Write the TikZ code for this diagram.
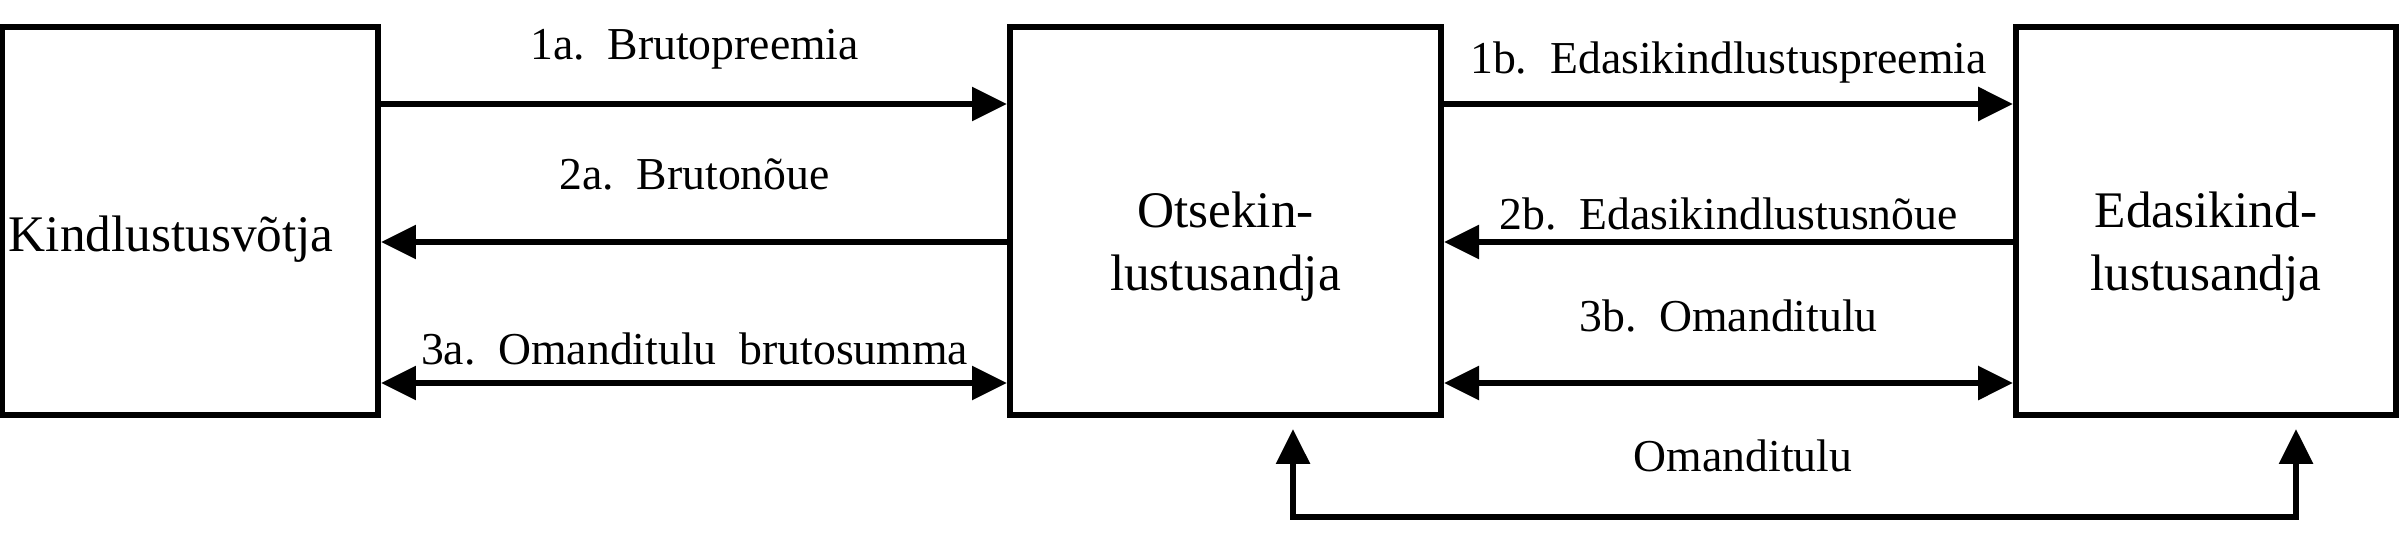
\documentclass[tikz,border=0pt]{standalone}
\usepackage{fontspec}
\setmainfont{Liberation Serif}
\usetikzlibrary{arrows.meta,positioning}

\begin{document}
\begin{tikzpicture}[
  lbl/.style={font=\fontsize{13}{15}\selectfont,inner sep=1pt},
  kast/.style={draw,line width=1.7pt,minimum height=3.88cm},
  ktxt/.style={align=center,inner sep=0pt,font=\fontsize{14.6}{18}\selectfont},
  arr/.style={-{Triangle[length=3.5mm,width=3.3mm]},line width=1.7pt},
  arr2/.style={{Triangle[length=3.5mm,width=3.3mm]}-{Triangle[length=3.5mm,width=3.3mm]},line width=1.7pt}
]
  \useasboundingbox (0,0) rectangle (23.99,5.51);
  % kastid
  \node[kast,minimum width=3.76cm] (kv) at (1.90,3.30) {};
  \node[ktxt,anchor=west] (kvtxt) at (0.08,3.12) {Kindlustusvõtja};
  \node[kast,minimum width=4.31cm] (ok) at (12.255,3.30) {};
  \node[ktxt] (oktxt) at (12.255,3.04) {Otsekin-\\lustusandja};
  \node[kast,minimum width=3.80cm] (ek) at (22.06,3.30) {};
  \node[ktxt] (ektxt) at (22.06,3.04) {Edasikind-\\lustusandja};

  \coordinate (r1) at (0,4.47);
  \coordinate (r2) at (0,3.09);
  \coordinate (r3) at (0,1.68);
  \coordinate (all) at (0,0.34);

  % vasak pool
  \draw[arr] (kv.east |- r1) -- (ok.west |- r1);
  \draw[arr] (ok.west |- r2) -- (kv.east |- r2);
  \draw[arr2] (kv.east |- r3) -- (ok.west |- r3);
  \node[lbl] (l1a) at (6.945,5.02) {1a.\ \ Brutopreemia};
  \node[lbl] (l2a) at (6.945,3.77) {2a.\ \ Brutonõue};
  \node[lbl] (l3a) at (6.945,2.02) {3a.\ \ Omanditulu\ \ brutosumma};

  % parem pool
  \draw[arr] (ok.east |- r1) -- (ek.west |- r1);
  \draw[arr] (ek.west |- r2) -- (ok.east |- r2);
  \draw[arr2] (ok.east |- r3) -- (ek.west |- r3);
  \node[lbl] (l1b) at (17.285,4.88) {1b.\ \ Edasikindlustuspreemia};
  \node[lbl] (l2b) at (17.285,3.37) {2b.\ \ Edasikindlustusnõue};
  \node[lbl] (l3b) at (17.285,2.35) {3b.\ \ Omanditulu};

  % all
  \coordinate (okall) at ([xshift=6.75mm,yshift=-1.1mm]ok.south);
  \coordinate (ekall) at ([xshift=9.0mm,yshift=-1.1mm]ek.south);
  \draw[arr] (okall |- all) -- (ekall |- all) -- (ekall);
  \draw[arr] (ekall |- all) -- (okall |- all) -- (okall);
  \node[lbl] (lom) at (17.43,0.95) {Omanditulu};
\end{tikzpicture}
\end{document}
